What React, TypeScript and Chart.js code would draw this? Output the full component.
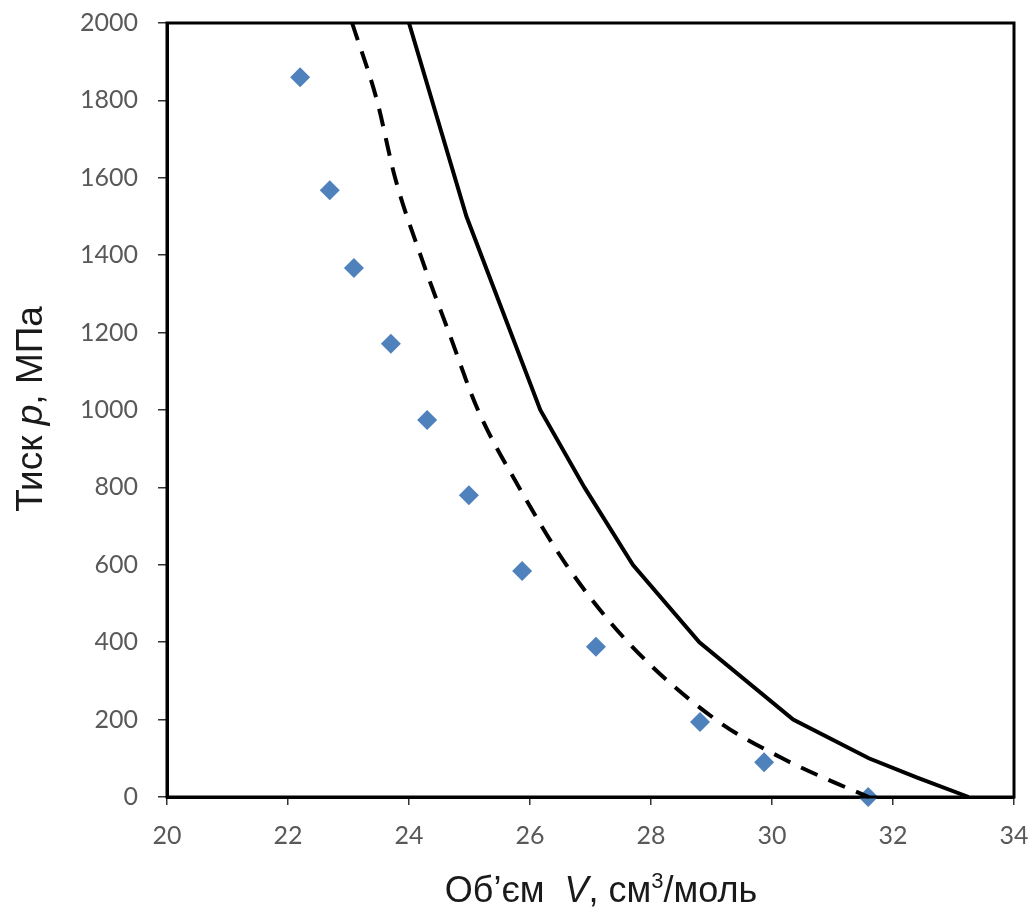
import React, { useEffect, useRef } from "react";
import { Chart, registerables } from "chart.js";

Chart.register(...registerables);

// Experimental points (diamonds)
const expV = [22.2, 22.69, 23.09, 23.7, 24.3, 24.99, 25.87, 27.09, 28.81, 29.87, 31.59];
const expP = [1860, 1568, 1367, 1171, 974, 780, 584, 388, 194, 90, 0];

// Dashed curve
const dashV = [23.06, 23.47, 23.77, 24.19, 24.66, 25.14, 25.82, 26.6, 27.62, 29.07, 30.17, 30.85, 31.6];
const dashP = [2000, 1800, 1600, 1400, 1200, 1000, 800, 600, 400, 200, 100, 50, 0];

// Solid curve
const solidV = [24.0, 24.95, 26.17, 26.9, 27.7, 28.8, 30.35, 31.6, 32.4, 33.25];
const solidP = [2000, 1500, 1000, 800, 600, 400, 200, 100, 50, 0];

const xMin = 20;
const xMax = 34;
const xStep = 2;
const yMin = 0;
const yMax = 2000;
const yStep = 200;

const xTitleRuns = [
  { t: "Об’єм  ", style: "" },
  { t: "V", style: "italic " },
  { t: ", см", style: "" },
  { t: "3", style: "sup" },
  { t: "/моль", style: "" },
];
const yTitleRuns = [
  { t: "Тиск ", style: "" },
  { t: "p", style: "italic " },
  { t: ", МПа", style: "" },
];

const toPts = (xs: number[], ys: number[]) => xs.map((x, i) => ({ x, y: ys[i] }));

function drawRuns(ctx: CanvasRenderingContext2D, runs: { t: string; style: string }[], cx: number, by: number, size: number) {
  const fam = "'Liberation Sans', Arial, sans-serif";
  const fontOf = (r: { style: string }) =>
    r.style === "sup" ? `${Math.round(size * 0.62)}px ${fam}` : `${r.style}${size}px ${fam}`;
  let total = 0;
  const widths = runs.map((r) => {
    ctx.font = fontOf(r);
    const w = ctx.measureText(r.t).width;
    total += w;
    return w;
  });
  let x = cx - total / 2;
  ctx.textAlign = "left";
  ctx.textBaseline = "alphabetic";
  runs.forEach((r, i) => {
    ctx.font = fontOf(r);
    const dy = r.style === "sup" ? -size * 0.38 : 0;
    ctx.fillText(r.t, x, by + dy);
    x += widths[i];
  });
}

const framePlugin = {
  id: "frameAndTitles",
  afterDraw(chart: any) {
    const { ctx, chartArea } = chart;
    ctx.save();
    ctx.strokeStyle = "#000";
    ctx.lineWidth = 3;
    ctx.strokeRect(chartArea.left, chartArea.top, chartArea.right - chartArea.left, chartArea.bottom - chartArea.top);
    ctx.fillStyle = "#1a1a1a";
    drawRuns(ctx, xTitleRuns, 601, 902, 36);
    ctx.translate(42, 409);
    ctx.rotate(-Math.PI / 2);
    drawRuns(ctx, yTitleRuns, 0, 0, 37);
    ctx.restore();
  },
};

export default function App() {
  const ref = useRef<HTMLCanvasElement | null>(null);
  useEffect(() => {
    if (!ref.current) return;
    const tickFont = { family: "Lato, 'Open Sans', sans-serif", size: 25 };
    const chart = new Chart(ref.current, {
      type: "scatter",
      data: {
        datasets: [
          {
            label: "solid",
            data: toPts(solidV, solidP),
            showLine: true,
            borderColor: "#000",
            borderWidth: 4,
            pointRadius: 0,
            tension: 0,
            fill: false,
          },
          {
            label: "dashed",
            data: toPts(dashV, dashP),
            showLine: true,
            borderColor: "#000",
            borderWidth: 4,
            borderDash: [18, 12],
            pointRadius: 0,
            cubicInterpolationMode: "monotone",
            fill: false,
          },
          {
            label: "exp",
            data: toPts(expV, expP),
            showLine: false,
            pointStyle: "rectRot",
            pointRadius: 10,
            backgroundColor: "#4F81BD",
            borderColor: "#4F81BD",
            borderWidth: 0,
          },
        ],
      },
      options: {
        responsive: false,
        animation: false,
        devicePixelRatio: 1,
        clip: false as any,
        layout: { padding: { left: 0, top: 23, right: 18, bottom: 0 } },
        plugins: { legend: { display: false }, tooltip: { enabled: false } },
        scales: {
          x: {
            type: "linear",
            min: xMin,
            max: xMax,
            ticks: { stepSize: xStep, color: "#595959", font: tickFont, padding: 16, maxRotation: 0, callback: (v: any) => String(v) },
            grid: { display: true, drawOnChartArea: false, drawTicks: true, tickLength: 8, color: "#333", lineWidth: 1.5 },
            border: { display: true, color: "#000", width: 3 },
            afterFit: (s: any) => {
              s.height = 113;
              s.paddingLeft = 0;
              s.paddingRight = 0;
            },
          },
          y: {
            type: "linear",
            min: yMin,
            max: yMax,
            ticks: { stepSize: yStep, color: "#595959", font: tickFont, padding: 20, callback: (v: any) => String(v) },
            grid: { display: true, drawOnChartArea: false, drawTicks: true, tickLength: 9, color: "#333", lineWidth: 1.5 },
            border: { display: true, color: "#000", width: 3 },
            afterFit: (s: any) => {
              s.width = 167;
              s.paddingTop = 0;
              s.paddingBottom = 0;
            },
          },
        },
      },
      plugins: [framePlugin],
    } as any);
    return () => chart.destroy();
  }, []);
  return (
    <div style={{ position: "fixed", left: 0, top: 0, width: 1032, height: 910, background: "#fff" }}>
      <canvas ref={ref} width={1032} height={910} style={{ display: "block" }} />
    </div>
  );
}
